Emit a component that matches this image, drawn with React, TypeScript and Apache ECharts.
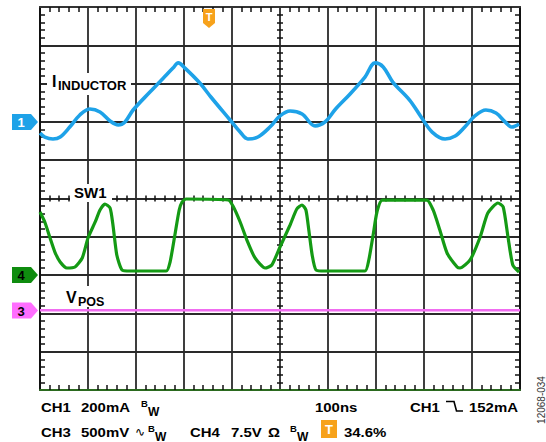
import React, { useEffect, useRef } from "react";
import * as echarts from "echarts";

// ---- Data (time in ns, 100 ns/div) ----
const ch1TimeNs = [0, 10, 27, 42, 62, 83, 104, 125, 146, 163, 177, 194, 229, 260, 277, 288, 302, 333, 356, 396, 417, 433, 454, 479, 500, 521, 546, 573, 594, 615, 646, 677, 698, 715, 735, 770, 794, 817, 844, 865, 885, 906, 929, 950, 969, 983, 998];
const ch1CurrentMa = [-58, -79, -89, -79, -27, 36, 67, 52, 5, -16, 0, 62, 156, 237, 281, 308, 281, 203, 130, 10, -53, -89, -79, -27, 31, 57, 41, -21, 0, 65, 146, 234, 308, 287, 208, 114, 26, -53, -89, -74, -27, 31, 62, 46, 0, -27, -11];

const ch4TimeNs = [0, 10, 21, 31, 42, 56, 73, 88, 100, 115, 125, 135, 146, 152, 160, 171, 188, 263, 271, 281, 290, 296, 304, 392, 402, 417, 431, 448, 469, 483, 500, 521, 535, 546, 554, 560, 567, 575, 594, 677, 685, 694, 702, 713, 806, 819, 833, 848, 869, 875, 896, 917, 933, 954, 965, 975, 985, 998];
const ch4Volts = [12.36, 10.4, 7.26, 4.52, 2.56, 1.39, 1.59, 3.35, 7.26, 10.4, 12.75, 13.92, 13.14, 9.81, 3.94, 1.0, 0.8, 0.8, 2.56, 7.85, 12.75, 14.31, 14.9, 14.7, 13.53, 10.4, 6.87, 3.35, 1.39, 1.98, 5.5, 9.81, 12.94, 13.73, 12.75, 8.83, 3.94, 1.0, 0.8, 0.8, 2.96, 7.85, 12.36, 14.7, 14.7, 12.75, 8.83, 4.33, 1.59, 1.39, 2.96, 7.46, 12.16, 14.12, 13.33, 7.46, 1.98, 0.61];

const ch3TimeNs = [0, 1000];
const ch3Millivolts = [0, 0];

// Channel scale settings (per division) and offsets (divisions from centre)
const CH1_PER_DIV = 200; // mA
const CH1_OFFSET = 2;
const CH4_PER_DIV = 7.5; // V
const CH4_OFFSET = -2;
const CH3_PER_DIV = 500; // mV
const CH3_OFFSET = -2.92;

const FONT = '"Liberation Sans", Arial, Helvetica, sans-serif';
const BLUE = "#1ea2e8";
const GREEN = "#149a14";
const PINK = "#f06cf0";
const ORANGE = "#f7a21b";

const zip = (xs: number[], ys: number[]) => xs.map((x, i) => [x, ys[i]]);

const grat = (extra: any) => ({
  type: "value",
  axisLabel: { show: false },
  axisTick: { show: false, inside: true },
  splitLine: { show: false },
  ...extra,
});

function txt(text: string, x: number, y: number, size: number, opts: any = {}) {
  return {
    type: "text",
    x,
    y,
    z: 10,
    scaleX: opts.scaleX ?? 1,
    rotation: opts.rotation ?? 0,
    style: {
      text,
      fill: opts.fill ?? "#000",
      font: `${opts.weight ?? "bold"} ${size}px ${opts.family ?? FONT}`,
      align: opts.align ?? "left",
      verticalAlign: "middle",
    },
  };
}

function marker(label: string, yc: number, fill: string, textFill: string) {
  return [
    {
      type: "polygon",
      z: 10,
      shape: { points: [[12, yc - 8], [31, yc - 8], [38, yc], [31, yc + 8], [12, yc + 8]] },
      style: { fill },
    },
    txt(label, 21, yc + 0.5, 13, { fill: textFill, align: "center" }),
  ];
}

const SX = 1.15;

export default function App() {
  const ref = useRef<HTMLDivElement>(null);
  useEffect(() => {
    if (!ref.current) return;
    const chart = echarts.init(ref.current, undefined, { renderer: "svg" });
    const gridColor = "#2a2a2a";
    const minor = (len: number) => ({ show: true, splitNumber: 5, length: len, lineStyle: { color: "#111", width: 1.5 } });
    const option: any = {
      animation: false,
      backgroundColor: "#fff",
      grid: { left: 40, top: 7, width: 480, height: 383, containLabel: false, outerBoundsMode: "none" },
      xAxis: [
        grat({
          min: 0, max: 1000, interval: 100, position: "bottom",
          axisLine: { show: true, onZero: false, lineStyle: { color: "#2b6a1f", width: 2 } },
          minorTick: minor(5),
          splitLine: { show: true, lineStyle: { color: gridColor, width: 1.8 } },
        }),
        grat({
          min: 0, max: 1000, interval: 100, position: "top",
          axisLine: { show: true, onZero: false, lineStyle: { color: "#333", width: 2 } },
          minorTick: minor(5),
        }),
        grat({
          min: 0, max: 1000, interval: 100, position: "bottom", offset: -191.5,
          axisLine: { show: false, onZero: false },
          minorTick: minor(3),
        }),
        grat({
          min: 0, max: 1000, interval: 100, position: "bottom", offset: -191.5,
          axisTick: { show: false, inside: false },
          axisLine: { show: false, onZero: false },
          minorTick: minor(3),
        }),
      ],
      yAxis: [
        grat({
          min: -5, max: 5, interval: 1, position: "left",
          axisLine: { show: true, onZero: false, lineStyle: { color: "#111", width: 2 } },
          minorTick: minor(5),
          splitLine: { show: true, lineStyle: { color: gridColor, width: 1.8 } },
        }),
        grat({
          min: -5, max: 5, interval: 1, position: "right",
          axisLine: { show: true, onZero: false, lineStyle: { color: "#111", width: 2 } },
          minorTick: minor(5),
        }),
        grat({
          min: -5, max: 5, interval: 1, position: "left", offset: -240,
          axisLine: { show: false, onZero: false },
          minorTick: minor(3),
        }),
        grat({
          min: -5, max: 5, interval: 1, position: "left", offset: -240,
          axisTick: { show: false, inside: false },
          axisLine: { show: false, onZero: false },
          minorTick: minor(3),
        }),
        { type: "value", show: false, min: (-5 - CH1_OFFSET) * CH1_PER_DIV, max: (5 - CH1_OFFSET) * CH1_PER_DIV },
        { type: "value", show: false, min: (-5 - CH4_OFFSET) * CH4_PER_DIV, max: (5 - CH4_OFFSET) * CH4_PER_DIV },
        { type: "value", show: false, min: (-5 - CH3_OFFSET) * CH3_PER_DIV, max: (5 - CH3_OFFSET) * CH3_PER_DIV },
      ],
      series: [
        {
          type: "line", name: "CH3", xAxisIndex: 0, yAxisIndex: 6, symbol: "none", silent: true,
          data: zip(ch3TimeNs, ch3Millivolts), lineStyle: { color: PINK, width: 2.5 },
        },
        {
          type: "line", name: "CH4", xAxisIndex: 0, yAxisIndex: 5, symbol: "none", silent: true, smooth: 0.2,
          data: zip(ch4TimeNs, ch4Volts), lineStyle: { color: GREEN, width: 3.2 },
        },
        {
          type: "line", name: "CH1", xAxisIndex: 0, yAxisIndex: 4, symbol: "none", silent: true, smooth: 0.35,
          data: zip(ch1TimeNs, ch1CurrentMa), lineStyle: { color: BLUE, width: 3.6 },
        },
      ],
      graphic: {
        elements: [
          // label backgrounds
          { type: "rect", z: 1, shape: { x: 47, y: 73, width: 84, height: 22 }, style: { fill: "#fff" } },
          { type: "rect", z: 1, shape: { x: 70, y: 184, width: 42, height: 18 }, style: { fill: "#fff" } },
          { type: "rect", z: 1, shape: { x: 62, y: 286, width: 47, height: 21 }, style: { fill: "#fff" } },
          txt("I", 52, 81.5, 16),
          txt("INDUCTOR", 58, 85, 13),
          txt("SW1", 74, 192, 15),
          txt("V", 66, 297, 16),
          txt("POS", 78, 302, 12.5),
          ...marker("1", 122, BLUE, "#fff"),
          ...marker("4", 275, "#0f8c0f", "#000"),
          ...marker("3", 310.5, "#ff6eff", "#000"),
          {
            type: "polygon", z: 10,
            shape: { points: [[203, 9], [215, 9], [215, 23], [209, 28], [203, 23]] },
            style: { fill: ORANGE },
          },
          txt("T", 209, 17, 11, { fill: "#fff", align: "center" }),
          // footer row 1
          txt("CH1", 41, 407.5, 13, { scaleX: SX }),
          txt("200mA", 81, 407.5, 13, { scaleX: SX }),
          txt("B", 141, 403.5, 9.5),
          txt("W", 148, 411.5, 12),
          txt("100ns", 315, 407.5, 13, { scaleX: SX }),
          txt("CH1", 410, 407.5, 13, { scaleX: SX }),
          {
            type: "polyline", z: 10,
            shape: { points: [[446, 401.5], [454, 401.5], [456.5, 411], [463, 411]] },
            style: { stroke: "#000", lineWidth: 1.6, fill: null },
          },
          txt("152mA", 469, 407.5, 13, { scaleX: SX }),
          // footer row 2
          txt("CH3", 41, 432.5, 13, { scaleX: SX }),
          txt("500mV", 81, 432.5, 13, { scaleX: SX }),
          txt("\u223F", 135, 432, 12, { family: '"DejaVu Sans", sans-serif', weight: "normal" }),
          txt("B", 148, 428.5, 9.5),
          txt("W", 155, 436.5, 12),
          txt("CH4", 190, 432.5, 13, { scaleX: SX }),
          txt("7.5V", 231, 432.5, 13, { scaleX: SX }),
          txt("\u03A9", 268, 432.5, 13, { scaleX: SX }),
          txt("B", 290, 428.5, 9.5),
          txt("W", 297, 436.5, 12),
          { type: "rect", z: 10, shape: { x: 321, y: 420, width: 16, height: 18 }, style: { fill: ORANGE } },
          txt("T", 329, 429.5, 13, { fill: "#fff", align: "center" }),
          txt("34.6%", 344, 432.5, 13, { scaleX: SX }),
          txt("12068-034", 541, 400, 10, { weight: "normal", fill: "#333", align: "center", rotation: Math.PI / 2 }),
        ],
      },
    };
    chart.setOption(option);
    return () => chart.dispose();
  }, []);
  return (
    <div
      ref={ref}
      style={{ position: "fixed", left: 0, top: 0, width: 546, height: 442, background: "#fff" }}
    />
  );
}
